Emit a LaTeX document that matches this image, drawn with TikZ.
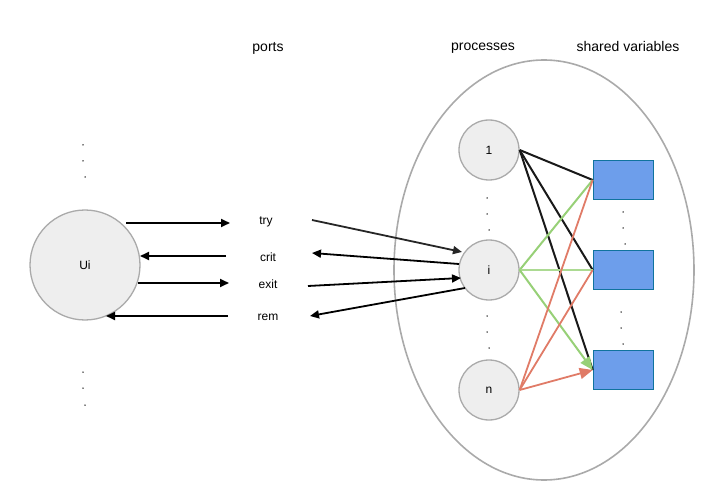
\documentclass[tikz,border=0pt]{standalone}
\usepackage{fontspec}
\setmainfont{Liberation Sans}
\usetikzlibrary{arrows.meta}
\definecolor{nodefill}{HTML}{EEEEEE}
\definecolor{nodeline}{HTML}{AAAAAA}
\definecolor{varfill}{HTML}{6D9EEB}
\definecolor{varline}{HTML}{10739E}
\definecolor{linkgreen}{HTML}{97D077}
\definecolor{linkred}{HTML}{E07B67}
\tikzset{
  proc/.style={circle, draw=nodeline, fill=nodefill, line width=1.3pt, inner sep=0pt, font=\fontsize{12}{14}\selectfont},
  var/.style={rectangle, draw=varline, fill=varfill, line width=1.6pt, minimum width=60pt, minimum height=39pt, inner sep=0pt},
  lbl/.style={font=\fontsize{12}{14}\selectfont, inner sep=0pt},
  hdr/.style={font=\fontsize{14}{16}\selectfont, inner sep=0pt},
  dot/.style={circle, fill=black, inner sep=0pt, minimum size=1.5pt},
  sig/.style={line width=1.8pt, -{Triangle[length=9pt,width=8pt]}},
  blk/.style={line width=2pt, black!90},
  grn/.style={line width=2pt, linkgreen},
  red/.style={line width=1.8pt, linkred},
  tipg/.style={-{Triangle[length=13pt,width=11pt]}},
}
\begin{document}
\begin{tikzpicture}[x=1pt, y=-1pt]
\useasboundingbox (0,0) rectangle (721,500);

% headers
\node[hdr] (hports) at (268,48) {ports};
\node[hdr] (hproc) at (483,48) {processes};
\node[hdr] (hvars) at (628,46) {shared variables};

% the process group
\draw[nodeline, line width=1.6pt] (544,270) ellipse [x radius=150, y radius=210];

% user
\node[proc, minimum size=110pt] (ui) at (85,265) {Ui};
\foreach \px/\py [count=\k] in {83/145, 83/161, 85/177, 83/372, 83/388, 85/405}
  \node[dot] (ud\k) at (\px,\py) {};

% port labels
\node[lbl] (try) at (266,222) {try};
\node[lbl] (crit) at (268,257) {crit};
\node[lbl] (exit) at (268,284) {exit};
\node[lbl] (rem) at (268,317) {rem};

\coordinate (tryL) at (230,223);
\coordinate (critL) at (226,256);
\coordinate (exitL) at (229,283);
\coordinate (remL) at (228,316);
\coordinate (tryR) at (312,220);
\coordinate (critR) at (312,253);
\coordinate (exitR) at (308,286);
\coordinate (remR) at (310,316);

% processes
\node[proc, minimum size=60pt] (p1) at (489,150) {1};
\node[proc, minimum size=60pt] (pi) at (489,270) {i};
\node[proc, minimum size=60pt] (pn) at (489,390) {n};
\foreach \px/\py [count=\k] in {487/198, 487/214, 489/230, 487/316, 487/332, 489/348}
  \node[dot] (pd\k) at (\px,\py) {};

% shared variables
\node[var] (v1) at (623.5,180) {};
\node[var] (v2) at (623.5,270) {};
\node[var] (v3) at (623.5,370) {};
\foreach \px/\py [count=\k] in {623/212, 623/228, 625/244, 621/312, 621/328, 623/344}
  \node[dot] (vd\k) at (\px,\py) {};

% user <-> ports
\draw[sig] (126,223) -- (tryL);
\draw[sig] (critL) -- (140,256);
\draw[sig] (138,283) -- (exitL);
\draw[sig] (remL) -- (106,316);

% ports <-> process i
\draw[sig, black!85] (tryR) -- (462,252);
\draw[sig] (459,264) -- (critR);
\draw[sig] (exitR) -- (461,278);
\draw[sig] (465,288) -- (remR);

% process 1 -> variables
\draw[blk] (p1.east) -- (v1.west);
\draw[blk] (p1.east) -- (v2.west);
\draw[blk] (p1.east) -- (v3.west);

% process i -> variables
\draw[grn] (pi.east) -- (v1.west);
\draw[grn, linkgreen!80] (pi.east) -- (v2.west);
\draw[grn, tipg] (pi.east) -- (v3.west);

% process n -> variables
\draw[red] (pn.east) -- (v1.west);
\draw[red] (pn.east) -- (v2.west);
\draw[red, tipg] (pn.east) -- (v3.west);
\end{tikzpicture}
\end{document}
